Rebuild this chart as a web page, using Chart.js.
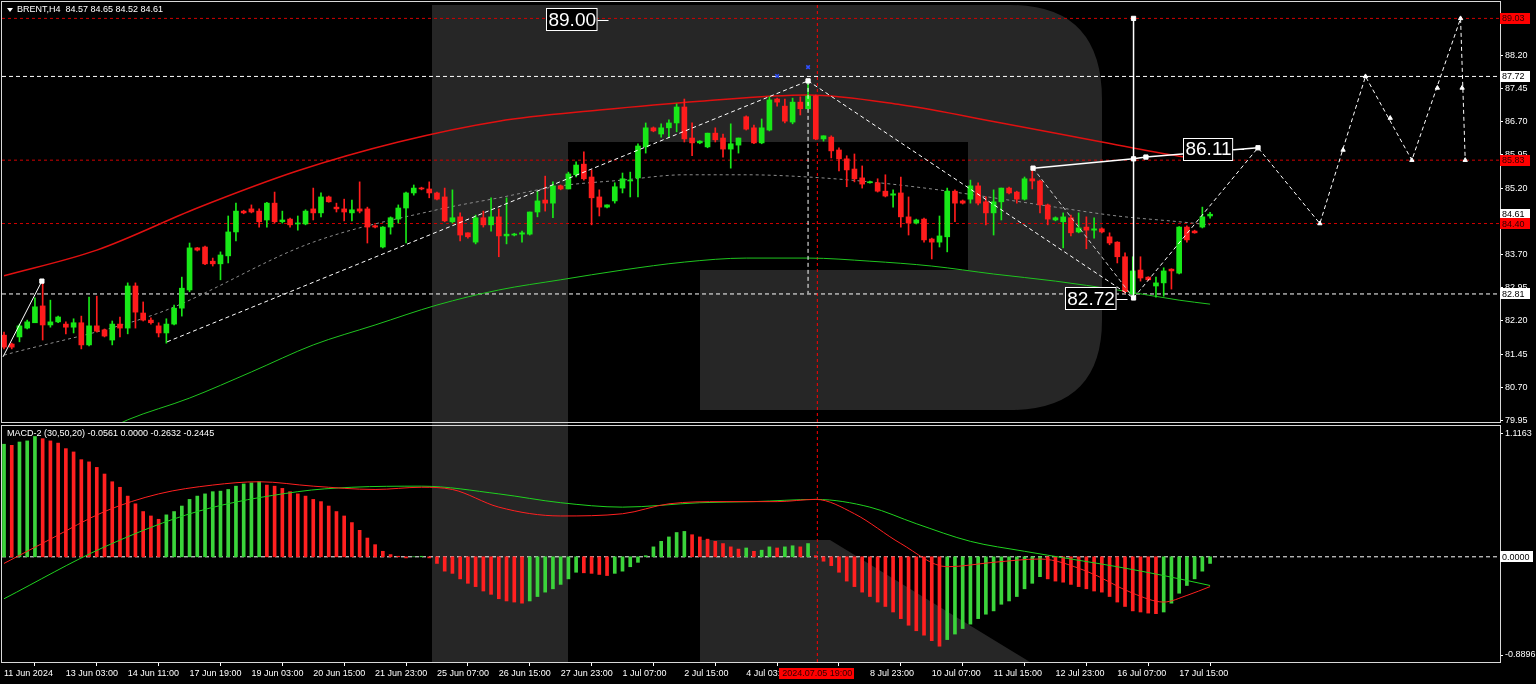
<!DOCTYPE html>
<html>
<head>
<meta charset="utf-8">
<title>BRENT H4</title>
<script src="https://cdn.jsdelivr.net/npm/chart.js@4.4.1/dist/chart.umd.min.js"></script>
<style>
  html, body { margin: 0; padding: 0; background: #000; width: 1536px; height: 684px; overflow: hidden; }
  .layer { position: absolute; left: 0; }
</style>
</head>
<body>
<svg class="layer" style="top:0" width="1536" height="684">
  <path fill="#262626" d="M432 5H568V662H432Z M568 5H1010Q1102 5 1102 100V320Q1102 410 1010 410H700V270H968V142H568Z M700 540H830L1030 662H700Z"/>
</svg>
<canvas id="main" class="layer" style="top:0" width="1536" height="424"></canvas>
<canvas id="macd" class="layer" style="top:424px" width="1536" height="260"></canvas>
<script>
// --- velas H4: [open, high, low, close] ---
const bars = [
  [81.88,81.95,81.57,81.61],[81.68,81.70,81.57,81.61],[81.84,82.13,81.73,82.09],[82.04,82.22,82.02,82.18],
  [82.16,82.72,82.16,82.52],[82.54,83.08,81.77,82.11],[82.11,82.67,82.06,82.18],[82.18,82.31,82.16,82.29],
  [82.13,82.18,81.91,82.06],[82.06,82.25,81.93,82.16],[82.16,82.31,81.57,81.66],[81.66,82.74,81.64,82.09],
  [82.09,82.76,81.95,81.97],[82.00,82.02,81.84,81.86],[81.77,82.20,81.66,82.13],[82.13,82.29,81.84,82.04],
  [82.04,83.06,81.91,82.99],[82.99,83.06,82.04,82.40],[82.38,82.63,82.20,82.22],[82.22,82.27,82.13,82.16],
  [82.09,82.16,81.84,81.93],[81.93,82.25,81.70,82.13],[82.13,82.56,82.11,82.49],[82.49,83.19,82.31,82.94],
  [82.90,83.96,82.86,83.85],[83.85,83.86,83.78,83.80],[83.87,83.89,83.47,83.49],[83.55,83.62,83.44,83.49],
  [83.49,83.76,83.13,83.69],[83.67,84.57,83.51,84.21],[84.21,84.86,84.01,84.68],[84.68,84.70,84.62,84.64],
  [84.73,84.82,84.64,84.66],[84.68,84.73,84.32,84.44],[84.48,84.88,84.32,84.86],[84.86,85.11,84.41,84.44],
  [84.44,84.68,84.41,84.48],[84.50,84.52,84.32,84.37],[84.39,84.57,84.25,84.41],[84.39,84.71,84.37,84.68],
  [84.73,85.20,84.48,84.64],[84.64,85.09,84.55,85.00],[85.00,85.02,84.88,84.89],[84.77,84.86,84.66,84.73],
  [84.73,84.95,84.46,84.66],[84.64,84.93,84.46,84.71],[84.73,85.34,84.64,84.68],[84.73,84.77,83.96,84.32],
  [84.35,84.37,84.30,84.32],[83.87,84.33,83.85,84.32],[84.32,84.55,84.16,84.53],[84.50,84.82,84.41,84.75],
  [84.75,85.11,83.96,85.09],[85.09,85.27,85.04,85.20],[85.20,85.22,85.16,85.18],[85.18,85.34,84.98,85.09],
  [85.09,85.11,84.93,84.95],[85.00,85.20,84.44,84.46],[84.44,85.16,84.41,84.53],[84.55,84.64,84.01,84.14],
  [84.19,84.19,84.07,84.10],[83.98,84.59,83.94,84.53],[84.53,84.68,84.32,84.37],[84.37,84.98,84.23,84.55],
  [84.55,84.73,83.65,84.12],[84.12,84.98,83.94,84.16],[84.14,84.18,84.12,84.16],[84.16,84.23,83.98,84.19],
  [84.16,84.66,84.14,84.66],[84.66,85.13,84.55,84.91],[84.93,85.47,84.68,84.86],[84.86,85.34,84.53,85.25],
  [85.25,85.27,85.16,85.18],[85.18,85.56,85.18,85.52],[85.50,85.79,85.45,85.72],[85.74,86.02,85.38,85.41],
  [85.45,85.61,84.37,84.98],[85.00,85.16,84.57,84.77],[84.77,84.82,84.75,84.82],[84.91,85.32,84.86,85.23],
  [85.20,85.54,85.09,85.41],[85.36,85.56,85.00,85.38],[85.43,86.20,85.00,86.15],[86.13,86.67,85.99,86.56],
  [86.56,86.58,86.47,86.49],[86.42,86.65,86.35,86.56],[86.56,86.74,86.35,86.67],[86.67,87.10,86.47,87.03],
  [87.03,87.21,86.24,86.31],[86.33,86.67,85.93,86.22],[86.22,86.27,86.20,86.26],[86.13,86.44,86.11,86.44],
  [86.44,86.56,86.24,86.29],[86.33,86.42,85.90,86.08],[86.08,86.65,85.65,86.20],[86.17,86.33,85.99,86.33],
  [86.81,86.83,86.51,86.53],[86.56,86.62,86.20,86.22],[86.22,86.76,86.20,86.56],[86.51,87.26,86.49,87.19],
  [87.21,87.23,87.05,87.14],[87.05,87.21,86.67,86.71],[86.69,87.23,86.65,87.14],[87.14,87.26,86.85,86.99],
  [86.99,87.65,86.99,87.28],[87.28,87.30,86.29,86.31],[86.31,86.38,86.26,86.38],[86.35,86.38,85.88,86.04],
  [86.06,86.11,85.59,85.86],[85.86,85.93,85.23,85.61],[85.63,85.97,85.34,85.41],[85.43,85.70,85.20,85.29],
  [85.32,85.36,85.31,85.34],[85.32,85.41,85.11,85.13],[85.13,85.50,85.00,85.02],[85.04,85.16,84.77,85.07],
  [85.09,85.45,84.32,84.55],[84.55,85.00,84.14,84.41],[84.41,84.50,84.39,84.48],[84.50,84.52,83.98,84.03],
  [84.05,84.07,83.60,83.98],[83.98,84.57,83.87,84.12],[84.10,85.20,83.76,85.13],[85.13,85.16,84.44,84.86],
  [84.91,84.93,84.84,84.86],[84.95,85.38,84.86,85.25],[85.25,85.32,84.82,84.86],[84.89,85.00,84.37,84.64],
  [84.64,85.16,84.14,84.89],[84.89,85.20,84.48,85.20],[85.20,85.22,85.07,85.09],[85.11,85.13,84.86,84.95],
  [84.95,85.45,84.93,85.41],[85.41,85.65,85.18,85.36],[85.36,85.38,84.64,84.82],[84.82,84.84,84.37,84.50],
  [84.48,84.55,84.46,84.53],[84.44,84.64,83.85,84.55],[84.53,84.59,84.12,84.19],[84.21,84.64,84.19,84.30],
  [84.32,84.55,83.83,84.25],[84.25,84.53,84.07,84.28],[84.28,84.30,84.19,84.21],[84.10,84.19,83.92,83.96],
  [83.98,83.99,83.51,83.65],[83.65,83.74,82.83,82.86],[82.81,83.65,82.72,83.33],[83.35,83.65,83.10,83.17],
  [83.19,83.20,83.12,83.13],[82.99,83.19,82.74,83.06],[83.06,83.40,82.76,83.33],[83.37,83.38,82.92,83.33],
  [83.28,84.33,83.26,84.32],[84.32,84.35,83.98,84.03],[84.23,84.25,84.18,84.19],[84.32,84.77,84.30,84.55],
  [84.57,84.65,84.52,84.61]
];

// --- médias móveis (índice da vela, preço) ---
const maRed = [[0,83.22],[12,83.80],[25,84.75],[38,85.59],[51,86.24],[64,86.71],[77,86.96],[90,87.16],[104,87.30],[116,87.08],[129,86.67],[142,86.24],[152,85.92],[156,85.83]];
const maGray = [[0,81.43],[20,82.38],[40,83.98],[56,84.71],[64,84.98],[72,85.25],[80,85.38],[88,85.50],[96,85.50],[104,85.45],[112,85.34],[120,85.18],[128,84.98],[136,84.77],[144,84.57],[152,84.44],[156,84.37]];
const maGreen = [[14,79.80],[16,79.97],[24,80.46],[32,81.05],[40,81.66],[48,82.11],[56,82.56],[64,82.90],[72,83.13],[80,83.35],[88,83.53],[96,83.62],[104,83.62],[112,83.55],[120,83.44],[128,83.26],[136,83.10],[144,82.90],[152,82.67],[156,82.58]];

// --- níveis horizontais ---
const levelsRed = [89.03, 85.83, 84.40];
const levelsWhite = [87.72, 82.81];
const crossIdx = 105.2;

// --- zigzag / projeção (índice, preço) ---
const zzSolid = [[-0.13,81.39],[4.9,83.10]];
const zzUp = [[21.1,81.73],[104,87.62]];
const zzDown = [[104,87.62],[146.1,82.72]];
const zzDown2 = [[133.1,85.65],[146.1,82.72]];
const peakDrop = [[104,87.62],[104,82.83]];
const trendTop = [[133.1,85.65],[146.1,85.86],[147.7,85.90],[162.2,86.11]];
const targetLine = [[146.1,82.72],[146.1,89.03]];
const projection = [[146.1,82.72],[162.2,86.11],[170.2,84.40],[176.1,87.72],[182.1,85.83],[188.4,89.03],[189.0,85.83]];
const squares = [[4.9,83.10],[133.1,85.65],[146.1,85.86],[147.7,85.90],[162.2,86.11],[146.1,89.03],[146.1,82.72],[104,87.62]];
const arrows = [[170.2,84.40],[173.2,86.06],[176.1,87.72],[179.3,86.78],[182.1,85.83],[185.4,87.46],[188.4,89.03],[188.6,87.46],[189.0,85.83]];
const blueMarks = [[100,87.73],[104,87.93]];
const bigLabels = [{ text: '89.00', x: 73.5, y: 89.00 }, { text: '86.11', x: 155.8, y: 86.08 }, { text: '82.72', x: 140.6, y: 82.70 }];

// --- eixos ---
const priceTicks = [79.95,80.70,81.45,82.20,82.95,83.70,84.45,85.20,85.95,86.70,87.45,88.20,88.95];
const priceTags = [
  { v: 89.03, bg: '#ff0000', fg: '#300000' }, { v: 87.72, bg: '#ffffff', fg: '#000' },
  { v: 85.83, bg: '#ff0000', fg: '#300000' }, { v: 84.61, bg: '#ffffff', fg: '#000' },
  { v: 84.40, bg: '#ff0000', fg: '#300000' }, { v: 82.81, bg: '#ffffff', fg: '#000' }
];
const xTickIdx = [0,8,16,24,32,40,48,56,64,72,80,88,96,104,112,120,128,136,144,152];
const xTickLabels = ['11 Jun 2024','13 Jun 03:00','14 Jun 11:00','17 Jun 19:00','19 Jun 03:00','20 Jun 15:00',
  '21 Jun 23:00','25 Jun 07:00','26 Jun 15:00','27 Jun 23:00','1 Jul 07:00','2 Jul 15:00','4 Jul 03:00','',
  '8 Jul 23:00','10 Jul 07:00','11 Jul 15:00','12 Jul 23:00','16 Jul 07:00','17 Jul 15:00'];

// --- MACD-2 (30,50,20) ---
const macdHist = [
  1.02,1.01,1.04,1.05,1.09,1.07,1.05,1.03,0.98,0.95,
  0.88,0.86,0.81,0.75,0.68,0.63,0.55,0.48,0.41,0.37,
  0.34,0.38,0.41,0.46,0.52,0.55,0.57,0.59,0.595,0.61,
  0.64,0.66,0.67,0.68,0.65,0.64,0.62,0.59,0.57,0.55,
  0.52,0.50,0.46,0.41,0.37,0.31,0.24,0.17,0.11,0.05,
  0.02,0.005,-0.01,0.00,0.005,-0.01,-0.06,-0.13,-0.15,-0.20,
  -0.24,-0.27,-0.31,-0.34,-0.38,-0.40,-0.41,-0.42,-0.40,-0.36,
  -0.32,-0.29,-0.25,-0.20,-0.14,-0.145,-0.15,-0.16,-0.17,-0.15,
  -0.13,-0.09,-0.05,0.01,0.09,0.14,0.18,0.22,0.23,0.20,
  0.18,0.16,0.14,0.12,0.09,0.07,0.08,0.05,0.06,0.09,
  0.08,0.09,0.10,0.09,0.12,0.01,-0.04,-0.08,-0.14,-0.22,
  -0.27,-0.32,-0.36,-0.41,-0.45,-0.50,-0.56,-0.62,-0.67,-0.71,
  -0.76,-0.81,-0.75,-0.70,-0.65,-0.61,-0.56,-0.52,-0.49,-0.43,
  -0.40,-0.36,-0.29,-0.24,-0.18,-0.20,-0.22,-0.23,-0.25,-0.27,
  -0.29,-0.31,-0.32,-0.36,-0.41,-0.45,-0.49,-0.50,-0.51,-0.515,
  -0.50,-0.42,-0.33,-0.26,-0.20,-0.13,-0.06
];
const macdGreen = [[0,-0.38],[13,0.09],[25,0.41],[38,0.59],[45,0.63],[54,0.64],[64,0.57],[72,0.49],[80,0.45],[90,0.49],[97,0.50],[105,0.52],[112,0.45],[118,0.30],[125,0.14],[132,0.05],[138,-0.02],[144,-0.09],[150,-0.17],[156,-0.26]];
const macdRed = [[0,-0.06],[6,0.16],[13,0.41],[20,0.57],[27,0.65],[33,0.68],[40,0.64],[48,0.61],[54,0.63],[58,0.61],[64,0.45],[72,0.37],[80,0.39],[86,0.48],[93,0.50],[100,0.50],[105,0.52],[110,0.39],[116,0.12],[122,-0.09],[128,-0.05],[134,-0.02],[140,-0.13],[146,-0.33],[150,-0.41],[153,-0.35],[156,-0.27]];
const macdTicks = [1.1163, -0.8896];

// --- configuração geral ---
const xMin = -0.26, xMax = 193.5;
const pMin = 79.92, pMax = 89.40;
const mMin = -0.953, mMax = 1.185;
const GREEN = '#18e818', RED = '#ff1c1c';
const FONT = '"Liberation Sans", Arial, sans-serif';

const pts = arr => arr.map(([x, y]) => ({ x, y }));

function lineSet(data, color, opts = {}) {
  return Object.assign({
    type: 'line', data: pts(data), borderColor: color, borderWidth: 1,
    pointRadius: 0, tension: 0, fill: false, order: 5
  }, opts);
}

function hLine(v, color, dash) {
  return lineSet([[xMin, v], [xMax, v]], color, { borderDash: dash, order: 30 });
}

// eixo de preço com largura fixa e sem folga extra em cima/embaixo
function fitRight(s) {
  s.width = 36;
  s.paddingTop = 0;
  s.paddingBottom = 0;
}

// moldura branca em volta da área do gráfico
const framePlugin = {
  id: 'frame',
  beforeDatasetsDraw(chart) {
    const { ctx, chartArea: a } = chart;
    ctx.save();
    ctx.strokeStyle = '#d8d8d8';
    ctx.lineWidth = 1;
    ctx.strokeRect(a.left - 0.5, a.top - 0.5, a.right - a.left + 1, a.bottom - a.top + 1);
    ctx.restore();
  }
};

function tag(ctx, text, x, y, w, bg, fg) {
  ctx.fillStyle = bg;
  ctx.fillRect(x, Math.round(y - 5.5), w, 11);
  ctx.fillStyle = fg;
  ctx.font = '9px ' + FONT;
  ctx.textAlign = 'left';
  ctx.textBaseline = 'middle';
  ctx.fillText(text, x + 2, y + 0.5);
}

const mainDecor = {
  id: 'mainDecor',
  afterDraw(chart) {
    const { ctx, scales: { x, y } } = chart;
    ctx.save();
    // cabeçalho
    ctx.fillStyle = '#fff';
    ctx.beginPath(); ctx.moveTo(7, 8); ctx.lineTo(13, 8); ctx.lineTo(10, 12); ctx.closePath(); ctx.fill();
    ctx.font = '9px ' + FONT;
    ctx.textBaseline = 'middle';
    ctx.fillText('BRENT,H4  84.57 84.65 84.52 84.61', 17, 10);

    // rótulos grandes
    ctx.font = '19px ' + FONT;
    bigLabels.forEach(l => {
      const cx = x.getPixelForValue(l.x), cy = y.getPixelForValue(l.y);
      const w = ctx.measureText(l.text).width + 4, h = 23;
      const left = Math.round(cx - w / 2), top = Math.round(cy - h / 2);
      ctx.fillStyle = '#000';
      ctx.fillRect(left, top, w, h);
      ctx.strokeStyle = '#fff';
      ctx.lineWidth = 1;
      ctx.strokeRect(left + 0.5, top + 0.5, w - 1, h - 1);
      ctx.beginPath();
      ctx.moveTo(left + w, Math.round(cy) + 0.5);
      ctx.lineTo(left + w + 11, Math.round(cy) + 0.5);
      ctx.stroke();
      ctx.fillStyle = '#fff';
      ctx.textAlign = 'center';
      ctx.textBaseline = 'middle';
      ctx.fillText(l.text, cx, cy + 1);
    });

    // etiquetas coloridas no eixo de preço
    priceTags.forEach(t => tag(ctx, t.v.toFixed(2), 1500, y.getPixelForValue(t.v), 30, t.bg, t.fg));
    ctx.restore();
  }
};

const macdDecor = {
  id: 'macdDecor',
  afterDraw(chart) {
    const { ctx, scales: { x, y } } = chart;
    ctx.save();
    ctx.fillStyle = '#fff';
    ctx.font = '9px ' + FONT;
    ctx.textBaseline = 'middle';
    ctx.fillText('MACD-2 (30,50,20) -0.0561 0.0000 -0.2632 -0.2445', 7, 10);
    tag(ctx, '0.0000', 1500, y.getPixelForValue(0), 33, '#ffffff', '#000');

    // data do cursor
    const cx = x.getPixelForValue(crossIdx);
    ctx.fillStyle = '#ff0000';
    ctx.fillRect(Math.round(cx - 38), 244, 75, 11);
    ctx.fillStyle = '#300000';
    ctx.textAlign = 'center';
    ctx.fillText('2024.07.05 19:00', cx, 250);
    ctx.restore();
  }
};

const up = b => b[3] >= b[0];
const candleColors = bars.map(b => (up(b) ? GREEN : RED));

new Chart(document.getElementById('main'), {
  type: 'bar',
  data: {
    datasets: [
      ...levelsRed.map(v => hLine(v, '#d00000', [3, 3])),
      ...levelsWhite.map(v => hLine(v, '#ffffff', [4, 3])),
      lineSet([[crossIdx, pMin], [crossIdx, pMax]], '#ff0000', { borderDash: [3, 3], order: 29 }),
      lineSet(maGreen, '#1fc41f', { tension: 0.4, cubicInterpolationMode: 'monotone', order: 20 }),
      lineSet(maGray, '#8c8c8c', { borderDash: [3, 3], tension: 0.4, cubicInterpolationMode: 'monotone', order: 20 }),
      lineSet(maRed, '#e01010', { borderWidth: 1.5, tension: 0.4, cubicInterpolationMode: 'monotone', order: 20 }),
      {
        type: 'bar', data: bars.map((b, i) => ({ x: i, y: [b[2], b[1]] })),
        backgroundColor: candleColors, barThickness: 1, grouped: false, order: 12
      },
      {
        type: 'bar', data: bars.map((b, i) => ({ x: i, y: [Math.min(b[0], b[3]), Math.max(b[0], b[3])] })),
        backgroundColor: candleColors, barThickness: 5, minBarLength: 1, grouped: false, order: 11
      },
      lineSet(zzSolid, '#ffffff', { order: 4 }),
      lineSet(zzUp, '#ffffff', { borderDash: [4, 3], order: 4 }),
      lineSet(zzDown, '#ffffff', { borderDash: [4, 3], order: 4 }),
      lineSet(zzDown2, '#cfcfcf', { borderDash: [4, 3], order: 4 }),
      lineSet(peakDrop, '#ffffff', { borderDash: [4, 3], order: 4 }),
      lineSet(trendTop, '#ffffff', { borderWidth: 1.5, order: 4 }),
      lineSet(targetLine, '#ffffff', { borderWidth: 1.5, order: 4 }),
      lineSet(projection, '#ffffff', { borderDash: [4, 3], order: 4 }),
      lineSet(squares, '#ffffff', { showLine: false, pointRadius: 3, pointStyle: 'rect', pointBackgroundColor: '#ffffff', pointBorderColor: '#ffffff', order: 1 }),
      lineSet(arrows, '#ffffff', { showLine: false, pointRadius: 2.5, pointStyle: 'triangle', pointBackgroundColor: '#ffffff', pointBorderColor: '#ffffff', order: 1 }),
      lineSet(blueMarks, '#3050ff', { showLine: false, pointRadius: 2.5, pointStyle: 'crossRot', pointBorderColor: '#3050ff', pointBorderWidth: 1.5, order: 1 })
    ]
  },
  options: {
    responsive: false, animation: false, events: [],
    layout: { autoPadding: false, padding: { left: 2, top: 2, right: 0, bottom: 2 } },
    plugins: { legend: { display: false }, tooltip: { enabled: false } },
    scales: {
      x: { type: 'linear', min: xMin, max: xMax, offset: false, display: false },
      y: {
        position: 'right', min: pMin, max: pMax,
        afterBuildTicks: s => { s.ticks = priceTicks.map(v => ({ value: v })); },
        afterFit: fitRight,
        grid: { drawOnChartArea: false, color: '#ffffff', tickLength: 3 },
        border: { display: false },
        ticks: { color: '#ffffff', font: { family: FONT, size: 9 }, padding: 2, callback: v => v.toFixed(2) }
      }
    }
  },
  plugins: [framePlugin, mainDecor]
});

new Chart(document.getElementById('macd'), {
  type: 'bar',
  data: {
    datasets: [
      hLine(0, '#ffffff', [4, 3]),
      lineSet([[crossIdx, mMin], [crossIdx, mMax]], '#ff0000', { borderDash: [3, 3], order: 29 }),
      {
        type: 'bar', data: macdHist.map((v, i) => ({ x: i, y: v })),
        backgroundColor: macdHist.map((v, i) => (i === 0 || v >= macdHist[i - 1] ? '#3bd43b' : '#ff2020')),
        barThickness: 3, grouped: false, order: 12
      },
      lineSet(macdGreen, '#1fd21f', { tension: 0.4, cubicInterpolationMode: 'monotone', order: 6 }),
      lineSet(macdRed, '#ff2020', { tension: 0.4, cubicInterpolationMode: 'monotone', order: 5 })
    ]
  },
  options: {
    responsive: false, animation: false, events: [],
    layout: { autoPadding: false, padding: { left: 2, top: 2, right: 0, bottom: 0 } },
    plugins: { legend: { display: false }, tooltip: { enabled: false } },
    scales: {
      x: {
        type: 'linear', min: xMin, max: xMax, offset: false, position: 'bottom',
        afterBuildTicks: s => { s.ticks = xTickIdx.map(v => ({ value: v })); },
        afterFit: s => { s.height = 22; s.paddingLeft = 0; s.paddingRight = 0; },
        grid: { drawOnChartArea: false, color: '#ffffff', tickLength: 4 },
        border: { display: false },
        ticks: {
          color: '#ffffff', font: { family: FONT, size: 9 }, align: 'start', autoSkip: false,
          maxRotation: 0, padding: 2, callback: (v, i) => xTickLabels[i]
        }
      },
      y: {
        position: 'right', min: mMin, max: mMax,
        afterBuildTicks: s => { s.ticks = macdTicks.map(v => ({ value: v })); },
        afterFit: fitRight,
        grid: { drawOnChartArea: false, color: '#ffffff', tickLength: 3 },
        border: { display: false },
        ticks: { color: '#ffffff', font: { family: FONT, size: 9 }, padding: 2, callback: v => v.toFixed(4) }
      }
    }
  },
  plugins: [framePlugin, macdDecor]
});
</script>
</body>
</html>
